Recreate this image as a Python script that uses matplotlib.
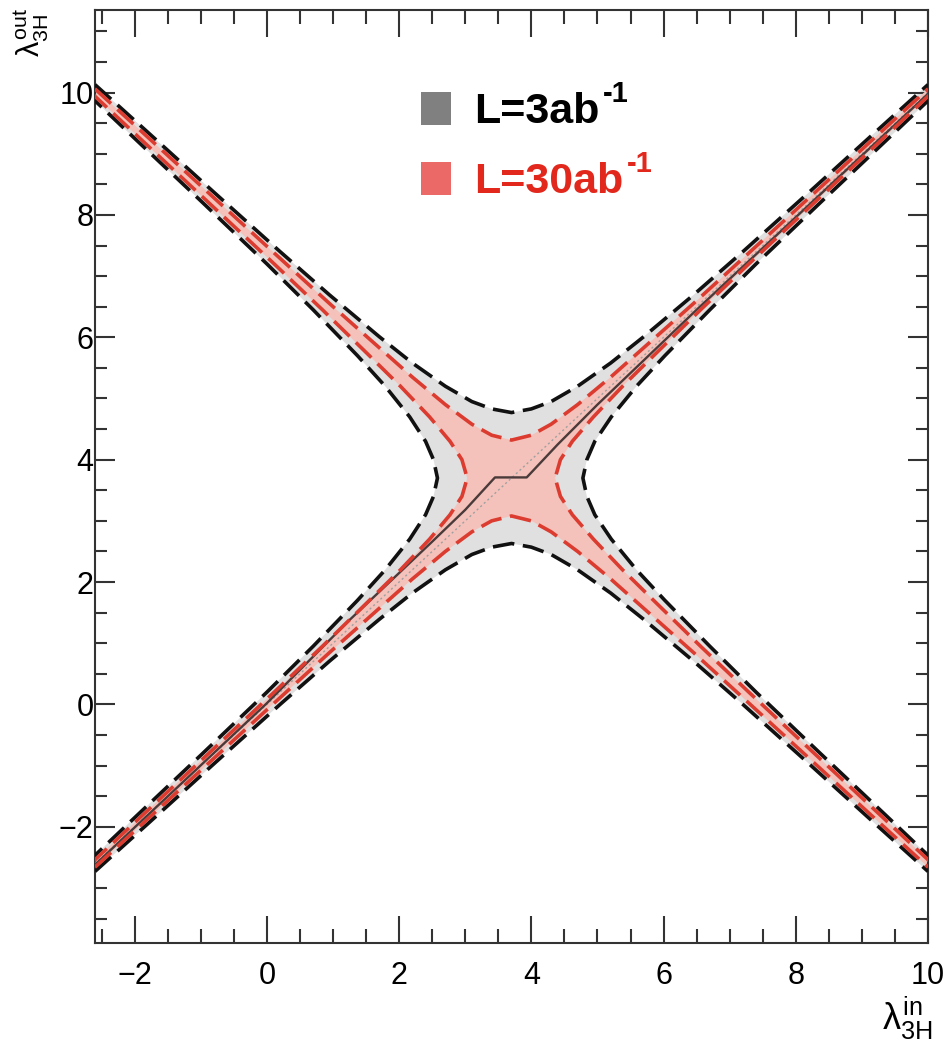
import matplotlib
matplotlib.use("Agg")
import matplotlib.pyplot as plt
from matplotlib.patches import Rectangle
from matplotlib.ticker import MultipleLocator
import numpy as np

plt.rcParams['font.family'] = ['Liberation Sans', 'DejaVu Sans']
plt.rcParams['mathtext.fontset'] = 'custom'
plt.rcParams['mathtext.rm'] = 'Liberation Sans'
plt.rcParams['mathtext.it'] = 'Liberation Sans'
plt.rcParams['mathtext.bf'] = 'Liberation Sans:bold'

# Common lambda grid: lambda_in for the upper/lower contours,
# lambda_out for the left/right contours.
lam_grid = [-2.6, -1.8, -0.8, 0.2, 0.95, 1.7, 2.2, 2.7, 3.1, 3.4, 3.7,
            4.0, 4.3, 4.7, 5.2, 5.7, 6.45, 7.2, 8.2, 9.2, 10.0]

# L = 3 ab^-1 contour
l3_upper = [10.13, 9.35, 8.37, 7.40, 6.69, 6.01, 5.58, 5.20, 4.95, 4.83, 4.77,
            4.83, 4.95, 5.20, 5.58, 6.01, 6.69, 7.40, 8.37, 9.35, 10.13]
l3_lower = [-2.73, -1.95, -0.97, 0.00, 0.71, 1.39, 1.82, 2.20, 2.45, 2.57, 2.63,
            2.57, 2.45, 2.20, 1.82, 1.39, 0.71, 0.00, -0.97, -1.95, -2.73]
l3_left = [-2.73, -1.95, -0.97, 0.00, 0.70, 1.37, 1.79, 2.16, 2.40, 2.52, 2.58,
           2.52, 2.40, 2.16, 1.79, 1.37, 0.70, 0.00, -0.97, -1.95, -2.73]
l3_right = [10.13, 9.35, 8.37, 7.40, 6.70, 6.02, 5.59, 5.21, 4.96, 4.84, 4.78,
            4.84, 4.96, 5.21, 5.59, 6.02, 6.70, 7.40, 8.37, 9.35, 10.13]

# L = 30 ab^-1 contour
l30_upper = [10.06, 9.27, 8.28, 7.29, 6.55, 5.83, 5.35, 4.90, 4.58, 4.40, 4.32,
             4.40, 4.58, 4.90, 5.35, 5.83, 6.55, 7.29, 8.28, 9.27, 10.06]
l30_lower = [-2.66, -1.87, -0.88, 0.11, 0.85, 1.57, 2.05, 2.50, 2.82, 3.00, 3.08,
             3.00, 2.82, 2.50, 2.05, 1.57, 0.85, 0.11, -0.88, -1.87, -2.66]
l30_left = [-2.66, -1.87, -0.88, 0.11, 0.84, 1.55, 2.02, 2.46, 2.77, 2.95, 3.03,
            2.95, 2.77, 2.46, 2.02, 1.55, 0.84, 0.11, -0.88, -1.87, -2.66]
l30_right = [10.06, 9.27, 8.28, 7.29, 6.56, 5.85, 5.38, 4.94, 4.62, 4.44, 4.36,
             4.44, 4.62, 4.94, 5.38, 5.85, 6.56, 7.29, 8.28, 9.27, 10.06]

# Central lambda_out value versus lambda_in
central_in = [-2.6, 0.0, 1.25, 2.5, 3.0, 3.45, 3.93, 4.4, 5.0, 6.5, 10.0]
central_out = [-2.62, 0.02, 1.38, 2.66, 3.18, 3.71, 3.71, 4.25, 4.90, 6.45, 9.98]

# Reference line lambda_out = lambda_in
diag_in = [-2.6, 10.0]
diag_out = [-2.6, 10.0]

legend_labels = ['L=3ab', 'L=30ab']
legend_sup = '-1'
legend_colors = ['black', '#e2281c']
legend_boxes = ['#808080', '#eb6a68']

W, H = 952, 1047
fig = plt.figure(figsize=(W / 100, H / 100), dpi=100)
ax = fig.add_axes([95 / W, 104 / H, 833 / W, 933 / H])


def band_outline(upper, lower, left, right):
    g = np.asarray(lam_grid)
    xs = np.concatenate([g, np.asarray(right)[::-1], g[::-1], np.asarray(left)])
    ys = np.concatenate([np.asarray(upper), g[::-1], np.asarray(lower)[::-1], g])
    return xs, ys


gray_fill = '#e0e0e0'
red_fill = '#f4c2ba'
red_line = '#dc3c30'
dash = (6.0, 2.4)

xs, ys = band_outline(l3_upper, l3_lower, l3_left, l3_right)
ax.fill(xs, ys, color=gray_fill, lw=0, zorder=1)
xs, ys = band_outline(l30_upper, l30_lower, l30_left, l30_right)
ax.fill(xs, ys, color=red_fill, lw=0, zorder=2)

ax.plot(diag_in, diag_out, color='#a0a0a0', lw=1.0, ls=(0, (1.5, 2.0)), zorder=3)
ax.plot(central_in, central_out, color='#4a3a3a', lw=1.7, zorder=3)

for curve_x, curve_y in [(lam_grid, l3_upper), (lam_grid, l3_lower),
                         (l3_left, lam_grid), (l3_right, lam_grid)]:
    ax.plot(curve_x, curve_y, color='#111111', lw=2.6, ls=(0, dash),
            dash_capstyle='butt', zorder=4)
for curve_x, curve_y in [(lam_grid, l30_upper), (lam_grid, l30_lower),
                         (l30_left, lam_grid), (l30_right, lam_grid)]:
    ax.plot(curve_x, curve_y, color=red_line, lw=2.6, ls=(0, dash),
            dash_capstyle='butt', zorder=5)

ax.set_xlim(-2.6, 10.0)
ax.set_ylim(-3.9, 11.35)

ax.xaxis.set_major_locator(MultipleLocator(2))
ax.xaxis.set_minor_locator(MultipleLocator(0.5))
ax.yaxis.set_major_locator(MultipleLocator(2))
ax.yaxis.set_minor_locator(MultipleLocator(0.5))

frame_c = '#333333'
for s in ax.spines.values():
    s.set_color(frame_c)
    s.set_linewidth(1.5)
ax.tick_params(axis='both', which='both', direction='in', top=True, right=True,
               colors=frame_c, width=1.5, labelcolor='black', labelsize=22)
ax.tick_params(axis='x', which='major', length=19.5, pad=13)
ax.tick_params(axis='x', which='minor', length=10)
ax.tick_params(axis='y', which='major', length=14.5, pad=1)
ax.tick_params(axis='y', which='minor', length=8.5)


def fx(px):
    return px / W


def fy(py):
    return 1 - py / H


# Legend: coloured boxes with bold labels and raised exponents
renderer = fig.canvas.get_renderer()
rows_y = [123, 193]
for label, tcol, bcol, base in zip(legend_labels, legend_colors, legend_boxes, rows_y):
    fig.patches.append(Rectangle((fx(421), fy(base + 2)), 30 / W, 33 / H,
                                 transform=fig.transFigure, facecolor=bcol,
                                 edgecolor='none', figure=fig))
    t = fig.text(fx(474), fy(base), label, fontsize=31, fontweight='bold',
                 color=tcol, va='baseline', ha='left')
    ext = t.get_window_extent(renderer=renderer)
    fig.text((ext.x1 + 4) / W, fy(base - 21), legend_sup, fontsize=21,
             fontweight='bold', color=tcol, va='baseline', ha='left')

# Axis titles
fig.text(fx(932), fy(1042), r'$\lambda^{\rm in}_{\rm 3H}$', fontsize=26,
         ha='right', va='bottom')
fig.text(fx(12), fy(8), r'$\lambda^{\rm out}_{\rm 3H}$', fontsize=22,
         rotation=90, ha='left', va='top')

fig.savefig('out.png', dpi=100)
